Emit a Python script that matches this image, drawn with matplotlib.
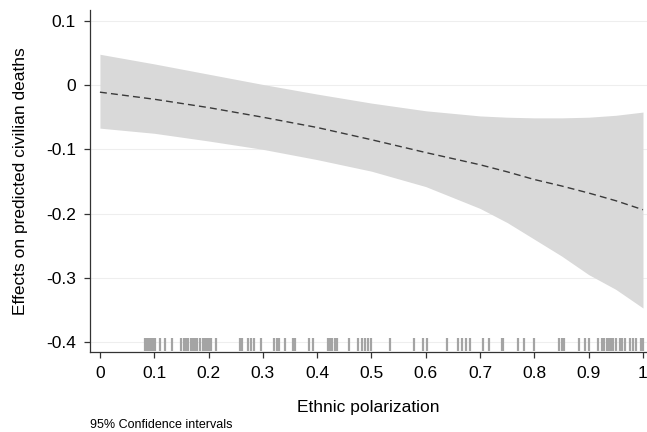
import numpy as np
import matplotlib
matplotlib.use("Agg")
from matplotlib import pyplot as plt

plt.rcParams['font.family'] = ['Liberation Sans', 'DejaVu Sans']
plt.rcParams['axes.unicode_minus'] = False

# marginal effect estimates
polarization = [0.0, 0.1, 0.2, 0.3, 0.4, 0.5, 0.6, 0.7, 0.75, 0.8, 0.85, 0.9, 0.95, 1.0]
effect = [-0.011, -0.022, -0.035, -0.050, -0.066, -0.085, -0.105, -0.124, -0.135, -0.147, -0.157, -0.168, -0.180, -0.194]
upper = [0.048, 0.033, 0.017, 0.001, -0.014, -0.028, -0.040, -0.048, -0.050, -0.051, -0.051, -0.050, -0.047, -0.042]
lower = [-0.067, -0.075, -0.087, -0.100, -0.116, -0.134, -0.158, -0.192, -0.214, -0.240, -0.266, -0.295, -0.318, -0.347]

# observed values of ethnic polarization (rug)
rug = [0.083, 0.087, 0.090, 0.094, 0.098, 0.101, 0.110, 0.120, 0.133, 0.150, 0.155, 0.158,
       0.163, 0.167, 0.171, 0.175, 0.179, 0.184, 0.190, 0.193, 0.196, 0.199, 0.202, 0.204, 0.213,
       0.258, 0.262, 0.273, 0.279, 0.284, 0.297, 0.321, 0.326, 0.330, 0.341, 0.356, 0.360,
       0.385, 0.393, 0.420, 0.424, 0.428, 0.432, 0.436, 0.459, 0.476, 0.482, 0.488, 0.494,
       0.500, 0.534, 0.579, 0.594, 0.603, 0.640, 0.660, 0.667, 0.675, 0.681, 0.706, 0.716,
       0.740, 0.743, 0.770, 0.780, 0.800, 0.845, 0.850, 0.855, 0.882, 0.894, 0.900, 0.918,
       0.925, 0.929, 0.933, 0.937, 0.941, 0.945, 0.950, 0.958, 0.962, 0.967, 0.976, 0.982,
       0.988, 0.997, 1.0]

yticks = [0.1, 0, -0.1, -0.2, -0.3, -0.4]
xticks = [0, 0.1, 0.2, 0.3, 0.4, 0.5, 0.6, 0.7, 0.8, 0.9, 1]

fig = plt.figure(figsize=(6.47, 4.32), dpi=100)
ax = fig.add_axes([0.139, 0.185, 0.861, 0.792])

for t in yticks:
    ax.axhline(t, color='#eeeeee', lw=0.8, zorder=0)

ax.fill_between(polarization, lower, upper, color='#d9d9d9', lw=0, zorder=1)
ax.plot(polarization, effect, color='#3a3a3a', lw=1.0, ls=(0, (5, 3)), zorder=2)
ax.vlines(rug, -0.414, -0.393, color='#a4a4a4', lw=1.6, zorder=3)

ax.set_xlim(-0.0184, 1.0074)
ax.set_ylim(-0.4156, 0.117)
ax.set_yticks(yticks)
ax.set_xticks(xticks)
ax.set_yticklabels(['%g' % t for t in yticks])
ax.set_xticklabels(['%g' % t for t in xticks])
ax.tick_params(labelsize=12.5, length=4, width=0.9, color='#333333', pad=6)

for s in ['top', 'right']:
    ax.spines[s].set_visible(False)
for s in ['left', 'bottom']:
    ax.spines[s].set_linewidth(0.9)
    ax.spines[s].set_color('#333333')

ax.set_xlabel('Ethnic polarization', fontsize=12.5, labelpad=14)
ax.set_ylabel('Effects on predicted civilian deaths', fontsize=12.5, labelpad=13)
fig.text(0.139, 0.009, '95% Confidence intervals', fontsize=9)

fig.savefig('out.png', dpi=100)
